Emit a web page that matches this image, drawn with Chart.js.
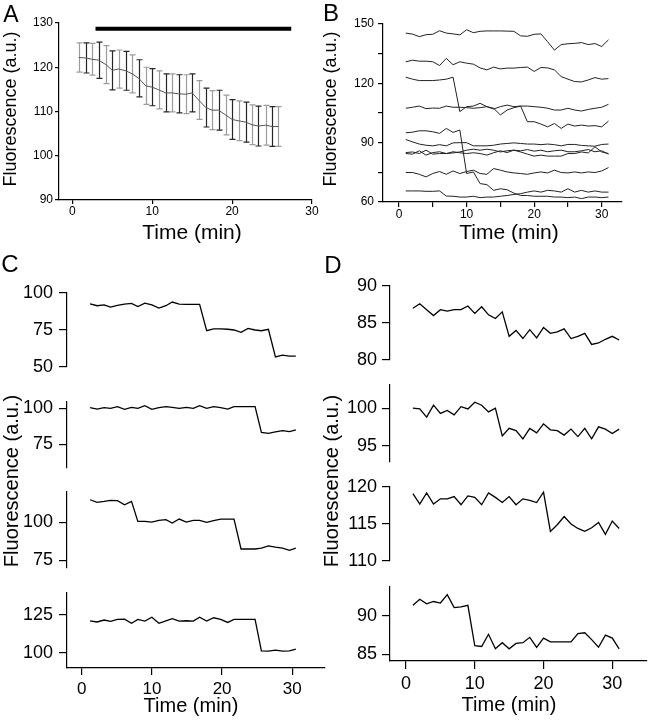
<!DOCTYPE html>
<html>
<head>
<meta charset="utf-8">
<script src="https://cdn.jsdelivr.net/npm/chart.js@4"></script>
<style>
  body { margin: 0; width: 648px; height: 720px; position: relative; overflow: hidden; background: #fff;
         font-family: "Liberation Sans", Arial, Helvetica, sans-serif; }
  canvas { position: absolute; }
  .lbl { position: absolute; white-space: nowrap; color: #000; line-height: 1; }
</style>
</head>
<body>
<script>
// --- DATOS ---
// Panel A: media y error por punto de tiempo
const timesA = [0.8,1.7,2.5,3.3,4.2,5.0,5.8,6.7,7.5,8.3,9.2,10.0,10.8,11.7,12.5,13.3,14.2,15.0,15.8,16.7,17.5,18.3,19.2,20.0,20.8,21.7,22.5,23.3,24.2,25.0,25.8];
const meanA = [122.2,122.1,121.8,121.6,120.6,119.3,119.6,119.2,118.5,117.5,115.8,115.5,114.9,114.2,114.2,114.0,113.9,114.2,112.6,110.9,110.3,110.3,109.2,108.2,107.9,107.6,107.0,106.7,106.9,106.6,106.6];
const errA = [3.3,3.4,3.6,4.1,4.3,4.4,4.3,4.4,4.3,4.2,4.2,4.2,4.3,4.3,4.3,4.3,4.4,4.3,4.4,4.4,4.4,4.5,4.5,4.5,4.5,4.5,4.5,4.5,4.5,4.5,4.5];
const drugBar = [2.9, 27.4];
const drugLevel = 128.7;

// Panel B: trazas individuales
const minutes = [1,2,3,4,5,6,7,8,9,10,11,12,13,14,15,16,17,18,19,20,21,22,23,24,25,26,27,28,29,30,31];
const traceB1 = [145.4,144.9,143.6,144.6,144.8,146.6,145.4,145.0,144.5,147.1,145.6,146.3,146.5,146.5,146.5,146.4,146.3,144.0,143.8,144.8,145.0,141.0,136.8,139.6,140.0,140.2,140.6,139.6,140.1,138.6,142.0];
const traceB2 = [130.9,131.7,131.2,131.2,130.9,129.0,132.6,129.4,130.9,130.2,129.7,127.8,126.8,128.2,127.3,127.7,127.7,128.0,128.2,126.0,128.0,127.8,126.8,123.4,122.1,120.9,120.7,121.7,122.9,122.1,122.4];
const traceB3 = [123.1,122.1,121.4,121.4,121.4,121.7,122.1,123.1,105.7,108.2,108.5,109.9,108.2,107.0,108.2,109.0,108.2,108.5,100.6,100.6,99.4,98.0,99.7,97.2,99.4,98.4,98.9,98.4,98.6,98.0,100.9];
const traceB4 = [107.4,107.9,108.5,107.2,107.5,107.4,108.5,107.9,107.9,107.7,107.4,107.7,108.2,107.4,104.0,106.5,107.7,108.5,108.5,108.2,107.9,107.4,106.5,106.5,107.4,106.5,106.0,106.8,107.4,107.9,109.4];
const traceB5 = [95.0,95.3,96.0,96.0,95.5,94.7,97.2,95.2,96.4,74.4,75.2,69.3,68.8,65.9,66.7,66.2,64.5,63.3,63.3,62.9,62.9,62.9,62.5,62.5,62.2,62.5,61.7,62.5,62.5,62.2,62.5];
const traceB6 = [91.6,90.4,89.3,88.7,88.4,89.0,88.4,89.9,90.0,90.0,88.4,88.4,88.4,88.7,89.3,89.6,89.9,89.6,89.3,89.3,89.0,89.3,89.0,88.4,89.1,89.1,88.6,88.4,88.2,89.1,89.3];
const traceB7 = [85.0,85.3,84.5,86.2,84.2,84.5,84.5,84.8,85.3,86.2,86.7,86.2,86.7,86.2,85.3,85.9,86.2,85.3,84.2,83.2,83.7,83.2,83.2,83.2,84.5,84.5,85.3,84.8,87.9,85.3,84.5];
const traceB8 = [84.5,84.2,85.9,83.7,85.0,85.4,84.5,85.4,84.9,84.5,84.9,84.5,83.7,84.9,85.9,85.0,86.2,85.9,86.5,85.7,86.2,85.4,85.9,86.2,85.4,85.4,85.9,86.5,85.4,85.9,84.2];
const traceB9 = [74.9,74.9,74.0,72.7,74.4,75.4,74.0,75.7,74.4,75.4,76.1,74.4,74.0,76.9,76.1,75.2,74.7,74.4,74.0,74.7,75.2,74.7,76.1,74.9,74.7,75.2,74.7,75.2,74.9,75.7,77.4];
const traceB10 = [65.6,65.6,65.6,65.4,65.4,65.6,63.0,62.9,62.5,62.5,62.9,62.2,62.5,62.5,62.9,63.3,63.8,64.2,65.0,65.6,65.0,65.9,65.6,65.0,66.7,65.0,65.9,65.0,65.6,65.0,65.0];

// Panel C: cuatro células
const minutesC = [1.2,2.2,3.2,4.1,5.1,6.1,7.1,8.0,9.0,10.0,11.0,12.0,12.9,13.9,14.9,15.9,16.8,17.8,18.8,19.8,20.8,21.7,22.7,23.7,24.7,25.6,26.6,27.6,28.6,29.6,30.5];
const cellC1 = [92.7,91.4,92.0,90.5,91.6,92.5,93.0,90.9,93.2,92.0,89.8,91.4,93.9,92.5,92.3,92.3,92.3,74.5,75.7,75.7,75.5,75.0,73.4,76.1,75.0,74.5,75.5,56.8,58.0,57.3,57.3];
const cellC2 = [100.5,99.5,100.5,100.0,101.2,99.3,100.7,100.0,101.9,99.3,100.5,101.2,100.7,100.0,100.7,100.0,101.9,100.0,101.2,100.5,99.5,101.2,101.2,101.2,101.2,83.3,82.6,83.6,84.5,83.8,85.0];
const cellC3 = [114.9,113.2,113.8,114.5,114.3,111.6,113.8,100.7,100.7,100.2,101.3,101.8,99.6,102.2,100.2,101.3,101.3,100.0,101.1,102.2,102.2,102.2,82.5,82.5,82.5,83.1,84.6,83.7,83.1,81.6,83.1];
const cellC4 = [121.2,120.4,121.7,120.8,122.1,122.3,119.5,122.1,121.0,123.5,119.5,121.2,122.6,121.0,121.2,121.0,123.5,121.0,123.2,122.1,120.1,122.1,122.1,122.1,122.1,101.3,101.1,101.8,101.1,101.3,102.4];

// Panel D: cuatro células
const cellD1 = [87.0,87.6,86.8,86.0,86.8,86.6,86.8,86.8,87.3,86.3,87.2,86.1,85.6,86.5,83.2,84.0,82.9,84.1,83.0,84.4,83.6,83.8,84.2,82.9,83.2,83.6,82.1,82.3,82.8,83.2,82.7];
const cellD2 = [100.0,99.9,98.8,100.4,99.3,99.7,99.1,100.2,99.9,100.8,100.4,99.5,100.0,96.3,97.3,97.0,95.9,97.3,96.7,97.9,97.1,97.0,96.4,97.2,96.2,97.3,95.9,97.5,97.2,96.6,97.2];
const cellD3 = [119.1,117.7,119.2,117.7,118.4,118.4,118.7,117.6,118.8,118.6,117.6,119.2,118.6,117.9,118.7,117.6,118.4,118.2,117.9,119.3,114.0,114.9,116.0,115.0,114.4,114.0,114.5,115.2,113.6,115.4,114.4];
const cellD4 = [91.4,92.2,91.6,91.9,91.7,92.8,91.1,91.2,91.4,86.1,86.0,87.6,85.7,86.5,85.7,86.4,86.5,87.2,85.9,87.1,86.6,86.6,86.6,86.6,87.7,87.8,86.9,85.9,87.5,87.1,85.7];

// Ticks
const ticksA_x = [0,10,20,30];
const ticksA_y = [90,100,110,120,130];
const ticksB_x = [0,5,10,15,20,25,30];
const labelsB_x = [0,10,20,30];
const ticksB_y = [60,75,90,105,120,135,150];
const labelsB_y = [60,90,120,150];
const ticksTime = [0,10,20,30];
const ticksC = [[50,75,100],[75,100],[75,100],[100,125]];
const ticksD = [[80,85,90],[95,100],[110,115,120],[85,90]];

// --- CONFIGURACION GENERAL ---
Chart.defaults.font.family = '"Liberation Sans", Arial, Helvetica, sans-serif';
Chart.defaults.color = '#000';

function serie(xs, ys, color, width) {
    return {
        data: xs.map((x, i) => ({ x: x, y: ys[i] })),
        borderColor: color, borderWidth: width,
        pointRadius: 0, fill: false, tension: 0
    };
}

function eje(min, max, ticks, labeled, o) {
    return {
        type: 'linear', min: min, max: max, display: o.show !== false,
        afterBuildTicks: s => { s.ticks = ticks.map(v => ({ value: v })); },
        ticks: {
            color: '#000', font: { size: o.font }, padding: o.pad, autoSkip: false, maxRotation: 0,
            callback: v => labeled.includes(v) ? String(v) : ''
        },
        grid: { display: true, drawOnChartArea: false, drawTicks: true, tickLength: o.tick, color: '#000', lineWidth: 1.2 },
        border: { display: true, color: '#000', width: 1.2 }
    };
}

// box = area del grafico en pixeles de pagina
function crearGrafico(box, ejeX, ejeY, datasets, plugins) {
    const pad = 18, wY = 60;
    const hX = ejeX.display ? 45 : 0;
    ejeY.afterFit = s => { s.width = wY; };
    ejeX.afterFit = s => { s.height = hX; };
    const w = box.r - box.l + wY + 2 * pad;
    const h = box.b - box.t + hX + 2 * pad;
    const cv = document.createElement('canvas');
    cv.width = w; cv.height = h;
    cv.style.left = (box.l - wY - pad) + 'px';
    cv.style.top = (box.t - pad) + 'px';
    cv.style.width = w + 'px'; cv.style.height = h + 'px';
    document.body.appendChild(cv);
    return new Chart(cv.getContext('2d'), {
        type: 'line',
        data: { datasets: datasets },
        options: {
            responsive: false, animation: false, devicePixelRatio: 1,
            layout: { padding: pad },
            plugins: { legend: { display: false }, tooltip: { enabled: false } },
            scales: { x: ejeX, y: ejeY }
        },
        plugins: plugins || []
    });
}

function texto(txt, cx, cy, size, rot) {
    const d = document.createElement('div');
    d.className = 'lbl';
    d.textContent = txt;
    d.style.fontSize = size + 'px';
    d.style.left = cx + 'px';
    d.style.top = cy + 'px';
    d.style.transform = 'translate(-50%,-50%)' + (rot ? ' rotate(-90deg)' : '');
    document.body.appendChild(d);
}

// --- PANEL A ---
const barrasError = {
    id: 'barrasError',
    beforeDatasetsDraw(chart) {
        const { ctx, scales: { x, y } } = chart;
        ctx.save();
        ctx.lineWidth = 1.2;
        timesA.forEach((t, i) => {
            const px = Math.round(x.getPixelForValue(t)) + 0.5;
            const top = y.getPixelForValue(meanA[i] + errA[i]);
            const bot = y.getPixelForValue(meanA[i] - errA[i]);
            ctx.strokeStyle = i % 2 ? '#262626' : '#9c9c9c';
            ctx.beginPath();
            ctx.moveTo(px, top); ctx.lineTo(px, bot);
            ctx.moveTo(px - 3, top); ctx.lineTo(px + 3, top);
            ctx.moveTo(px - 3, bot); ctx.lineTo(px + 3, bot);
            ctx.stroke();
        });
        ctx.restore();
    }
};

crearGrafico({ l: 59, r: 312, t: 23, b: 200 },
    eje(-1.67, 30, ticksA_x, ticksA_x, { font: 12, pad: 0, tick: 4 }),
    eje(90, 130, ticksA_y, ticksA_y, { font: 12, pad: 2, tick: 4 }),
    [serie(timesA, meanA, '#555', 1),
     serie(drugBar, [drugLevel, drugLevel], '#000', 4)],
    [barrasError]);

// --- PANEL B ---
const trazasB = [traceB1, traceB2, traceB3, traceB4, traceB5, traceB6, traceB7, traceB8, traceB9, traceB10];
crearGrafico({ l: 383, r: 622, t: 24, b: 202 },
    eje(-2.37, 33, ticksB_x, labelsB_x, { font: 12, pad: 0, tick: 5 }),
    eje(60, 150, ticksB_y, labelsB_y, { font: 12, pad: 4, tick: 5 }),
    trazasB.map(tr => serie(minutes, tr, '#222', 1)));

// --- PANEL C ---
const cajasC = [
    { box: { l: 67, r: 325, t: 293, b: 367 }, y: [50, 100] },
    { box: { l: 67, r: 325, t: 402, b: 468 }, y: [58.5, 104.4] },
    { box: { l: 67, r: 325, t: 492, b: 568 }, y: [70, 120] },
    { box: { l: 67, r: 325, t: 593, b: 668 }, y: [89.9, 139.6] }
];
const celulasC = [cellC1, cellC2, cellC3, cellC4];
cajasC.forEach((c, i) => {
    const ultimo = i === cajasC.length - 1;
    crearGrafico(c.box,
        eje(-2.09, 34.66, ticksTime, ticksTime, { font: 17, pad: 4, tick: 7, show: ultimo }),
        eje(c.y[0], c.y[1], ticksC[i], ticksC[i], { font: 18, pad: 6, tick: 8 }),
        [serie(minutesC, celulasC[i], '#000', 1.3)]);
});

// --- PANEL D ---
const cajasD = [
    { box: { l: 390, r: 647, t: 286, b: 360 }, y: [80, 90] },
    { box: { l: 390, r: 647, t: 385, b: 462 }, y: [92.8, 103.1] },
    { box: { l: 390, r: 647, t: 487, b: 561 }, y: [110, 120] },
    { box: { l: 390, r: 647, t: 587, b: 661 }, y: [84.1, 93.8] }
];
const celulasD = [cellD1, cellD2, cellD3, cellD4];
cajasD.forEach((c, i) => {
    const ultimo = i === cajasD.length - 1;
    crearGrafico(c.box,
        eje(-2.33, 35.05, ticksTime, ticksTime, { font: 18, pad: 4, tick: 8, show: ultimo }),
        eje(c.y[0], c.y[1], ticksD[i], ticksD[i], { font: 18, pad: 5, tick: 8 }),
        [serie(minutes, celulasD[i], '#000', 1.3)]);
});

// --- TEXTOS ---
texto('A', 11, 14, 23);
texto('B', 331, 13, 24);
texto('C', 10, 264, 24);
texto('D', 333, 265, 24);
texto('Fluorescence (a.u.)', 10, 109, 18, true);
texto('Fluorescence (a.u.)', 330, 109, 18, true);
texto('Fluorescence (a.u.)', 11, 481, 20, true);
texto('Fluorescence (a.u.)', 331, 481, 20, true);
texto('Time (min)', 192, 231, 21);
texto('Time (min)', 509, 231, 21);
texto('Time (min)', 191, 705, 20);
texto('Time (min)', 509, 704, 20);
</script>
</body>
</html>
